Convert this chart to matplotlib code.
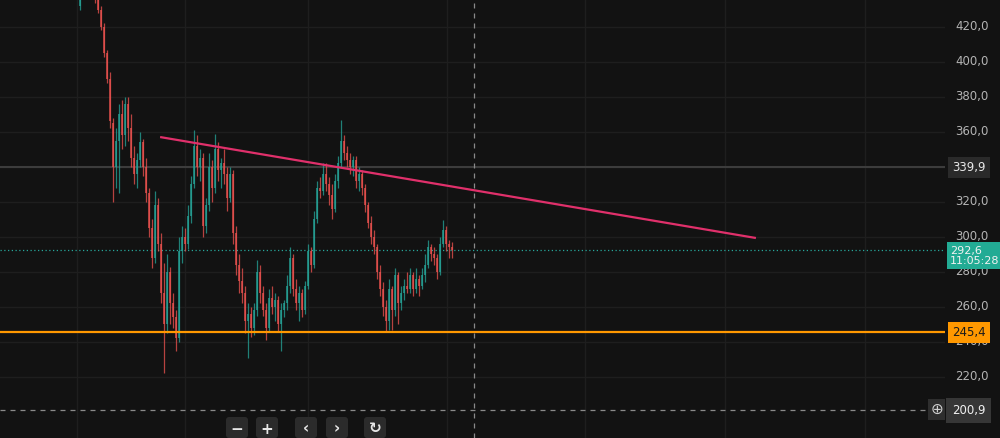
import matplotlib
matplotlib.use("Agg")
import matplotlib.pyplot as plt
from matplotlib.patches import FancyBboxPatch
from matplotlib.transforms import IdentityTransform

# ---------------- data ----------------
opens = [432, 437, 441, 444, 442, 439, 437, 430, 420, 405, 390, 365, 340, 355, 370, 358, 376, 362, 345, 336,
         344, 354, 340, 325, 305, 288, 318, 296, 268, 250, 280, 262, 254, 242, 292, 300, 296, 312, 330, 352,
         340, 345, 306, 318, 340, 328, 350, 338, 342, 336, 322, 336, 302, 284, 275, 268, 252, 256, 248, 258,
         280, 268, 258, 248, 265, 260, 264, 250, 258, 262, 272, 288, 270, 262, 268, 258, 272, 292, 284, 310,
         328, 326, 336, 330, 324, 316, 332, 342, 355, 348, 344, 340, 344, 332, 336, 328, 318, 308, 300, 294,
         280, 270, 260, 252, 270, 258, 278, 262, 268, 272, 270, 278, 270, 276, 272, 278, 284, 294, 290, 288,
         280, 296, 304, 296, 294]
highs = [437, 443, 446, 447, 444, 441, 439, 432, 422, 407, 394, 368, 362, 376, 378, 380, 380, 370, 352, 348,
         360, 356, 345, 328, 310, 326, 322, 302, 285, 290, 283, 268, 258, 300, 306, 305, 318, 335, 361, 358,
         350, 348, 322, 348, 344, 359, 354, 345, 350, 340, 340, 338, 306, 290, 282, 272, 262, 260, 262, 287,
         284, 272, 262, 270, 272, 268, 266, 262, 264, 278, 294, 290, 276, 272, 270, 275, 296, 294, 315, 332,
         334, 342, 342, 334, 330, 336, 346, 367, 358, 352, 348, 346, 346, 340, 338, 330, 320, 312, 304, 296,
         284, 274, 264, 276, 272, 282, 280, 272, 276, 280, 282, 280, 282, 278, 282, 290, 298, 296, 294, 290,
         300, 309.7, 306, 298, 297]
lows = [430, 436.5, 439, 440, 437, 434, 428, 418, 403, 388, 362, 320, 328, 325, 350, 352, 355, 340, 330, 328,
        340, 335, 320, 300, 282, 285, 292, 262, 222, 245, 250, 248, 235, 240, 285, 292, 293, 308, 328, 335,
        332, 300, 302, 315, 320, 325, 332, 328, 330, 315, 320, 296, 278, 268, 262, 245, 231, 243, 244, 255,
        262, 255, 241, 246, 256, 252, 246, 235, 254, 258, 268, 266, 258, 252, 254, 256, 270, 280, 282, 308,
        322, 324, 326, 318, 310, 314, 328, 340, 344, 340, 336, 335, 328, 326, 324, 314, 305, 296, 290, 276,
        266, 255, 246, 247, 247, 255, 250, 258, 264, 268, 268, 266, 268, 266, 270, 274, 282, 286, 284, 276,
        278, 294, 292, 288, 288]
closes = [436, 441, 444, 442, 439, 437, 430, 420, 405, 390, 366, 340, 355, 370, 358, 376, 362, 345, 336, 344,
          354, 340, 325, 305, 288, 318, 296, 268, 250, 280, 262, 254, 242, 292, 300, 296, 312, 330, 352, 340,
          345, 306, 318, 340, 328, 350, 338, 342, 336, 322, 336, 302, 284, 275, 268, 252, 256, 248, 258, 280,
          268, 258, 248, 265, 260, 264, 250, 258, 262, 272, 288, 270, 262, 268, 258, 272, 292, 284, 310, 328,
          326, 336, 330, 324, 316, 332, 342, 355, 348, 344, 340, 344, 332, 336, 328, 318, 308, 300, 294, 280,
          270, 260, 252, 270, 258, 278, 262, 268, 272, 270, 278, 270, 276, 272, 278, 284, 294, 290, 288, 280,
          296, 304, 296, 294, 292.6]

price_ticks = [420, 400, 380, 360, 320, 300, 280, 260, 240, 220]
grid_levels = [420, 400, 380, 360, 340, 320, 300, 280, 260, 240, 220]
support_level = 245.4
marked_level = 339.9
last_price = 292.6
last_time = "11:05:28"
cross_price = 200.9
trend_start = (26.7, 357.1)
trend_end = (225.3, 299.4)

# ---------------- style ----------------
BG = "#121212"
GRID = "#1e1e1e"
UP = "#26a69a"
DOWN = "#ef5350"
TXT = "#b4b4b4"

fig = plt.figure(figsize=(10, 4.38), dpi=100, facecolor=BG)
ax = fig.add_axes([0, 0, 0.945, 1])
ax.set_facecolor(BG)
ax.set_xlim(-26.67, 288.33)
ax.set_ylim(185.1, 435.43)
for s in ax.spines.values():
    s.set_visible(False)
ax.set_xticks([])
ax.set_yticks([])

# grid
for p in grid_levels:
    ax.axhline(p, color=GRID, lw=1, zorder=0)
for gx in [-1, 35, 76, 122.3, 168.3, 215, 261.7]:
    ax.axvline(gx, color=GRID, lw=1, zorder=0)

# candles
idx = list(range(len(closes)))
for i in idx:
    o, h, l, c = opens[i], highs[i], lows[i], closes[i]
    col = UP if c >= o else DOWN
    ax.vlines(i, l, h, color=col, lw=0.9, alpha=0.75, zorder=2)
    lo = min(o, c)
    ht = max(abs(c - o), 0.6)
    ax.bar(i, ht, bottom=lo, width=0.65, color=col, alpha=0.7, lw=0, zorder=2)

# horizontal levels
ax.axhline(marked_level, color="#3c3c3c", lw=1.5, zorder=1)
ax.axhline(last_price, color=UP, lw=0.9, ls=(0, (1, 2)), zorder=1)
ax.axhline(support_level, color="#ff9800", lw=1.6, zorder=3)

# trend line
ax.plot([trend_start[0], trend_end[0]], [trend_start[1], trend_end[1]],
        color="#e0306b", lw=1.6, zorder=4, solid_capstyle="butt")

# crosshair
cross_x = (474 - 80) / 3
ax.axvline(cross_x, color="#8a8a8a", lw=0.9, ls=(0, (4, 4)), zorder=5)
ax.plot([-26.67, (926 - 80) / 3], [cross_price, cross_price], color="#8a8a8a",
        lw=0.9, ls=(0, (4, 4)), zorder=5)

# price scale labels
lab_x = 1.0105
for p in price_ticks:
    ax.text(lab_x, p, f"{p:.1f}".replace(".", ","), transform=ax.get_yaxis_transform(),
            color=TXT, fontsize=8.5, va="center", ha="left", clip_on=False, zorder=6)

def box_label(y, text, fc, tc, x=1.0045, pad=0.35, fs=8.5):
    ax.text(x, y, text, transform=ax.get_yaxis_transform(), color=tc, fontsize=fs,
            va="center", ha="left", clip_on=False, zorder=10, linespacing=1.05,
            bbox=dict(boxstyle=f"square,pad={pad}", fc=fc, ec="none"))

box_label(marked_level, f"{marked_level:.1f}".replace(".", ","), "#2a2a2a", "#e8e8e8", x=1.0075)
box_label(support_level, f"{support_level:.1f}".replace(".", ","), "#ff9800", "#1a1a1a", x=1.0075)
box_label(last_price - 3.4, f"{last_price:.1f}".replace(".", ",") + "\n" + last_time,
          "#22ab94", "#f2f2f2", x=1.0055, pad=0.3, fs=8.0)
box_label(cross_price, f"{cross_price:.1f}".replace(".", ","), "#363636", "#f0f0f0", x=1.0075, pad=0.5)

# plus button at crosshair
pix = IdentityTransform()
H = 438
fig.add_artist(FancyBboxPatch((928, H - 420), 17, 21, boxstyle="square,pad=0",
                              fc="#2e2e2e", ec="none", transform=pix, zorder=9))
fig.text(936.5 / 1000, 1 - 409.5 / H, "⊕", color="#d0d0d0", fontsize=11,
         ha="center", va="center", zorder=11)

# bottom navigation buttons
for bx, sym in [(226, "−"), (256, "+"), (295, "‹"), (326, "›"), (364, "↻")]:
    fig.add_artist(FancyBboxPatch((bx, H - 438), 22, 21,
                                  boxstyle="round,pad=0,rounding_size=3",
                                  fc="#2b2b2b", ec="none", transform=pix, zorder=9))
    fig.text((bx + 11) / 1000, 1 - 429 / H, sym, color="#e6e6e6", fontsize=11,
             ha="center", va="center", fontweight="bold", zorder=11)

fig.savefig("out.png", dpi=100, facecolor=BG)
